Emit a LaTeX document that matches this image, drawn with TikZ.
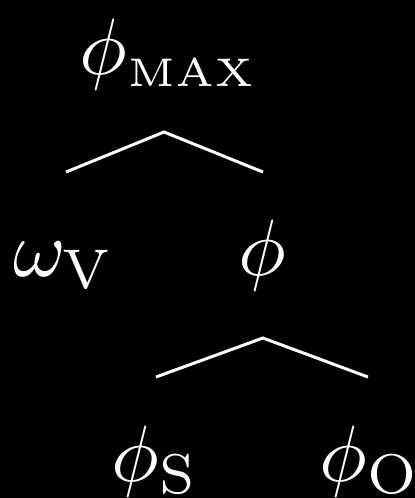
\documentclass[tikz,border=0pt]{standalone}
\begin{document}
\begin{tikzpicture}[x=0.125pt,y=-0.125pt,
  lbl/.style={anchor=base west,inner sep=0pt,outer sep=0pt,text=white},
  branch/.style={draw=white,line width=0.375pt,line join=miter}]
\fill[black] (0,0) rectangle (415,498);
\useasboundingbox (0,0) rectangle (415,498);
% labels
\node[lbl] (max) at (80,74) {$\phi_{\scriptscriptstyle\mathrm{MAX}}$};
\node[lbl] (omv) at (13,276) {$\omega_{\mathrm{V}}$};
\node[lbl] (phi) at (239,275) {$\phi$};
\node[lbl] (phs) at (112,481) {$\phi_{\mathrm{S}}$};
\node[lbl] (pho) at (320,481) {$\phi_{\mathrm{O}}$};
% branch points
\coordinate (a1) at (164,132);
\coordinate (l1) at (66,172);
\coordinate (r1) at (263,172);
\coordinate (a2) at (263,338);
\coordinate (l2) at (156,377);
\coordinate (r2) at (368,377);
\draw[branch] (l1) -- (a1) -- (r1);
\draw[branch] (l2) -- (a2) -- (r2);
\end{tikzpicture}
\end{document}
